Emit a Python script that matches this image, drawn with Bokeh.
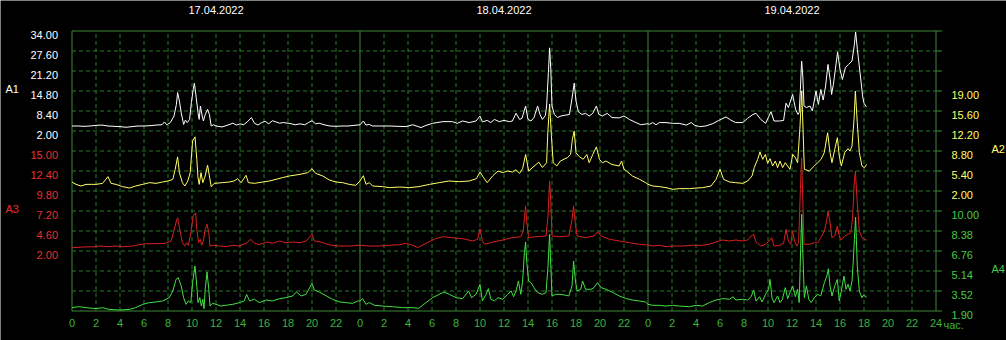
import numpy as np
from bokeh.plotting import figure
from bokeh.models import Range1d
from bokeh.core.properties import value
from bokeh.embed import file_html
from bokeh.resources import INLINE

# ---------------- data ----------------
DATES = ["17.04.2022", "18.04.2022", "19.04.2022"]
HOUR_TICKS = list(range(0, 73, 2))
HOUR_UNIT = "час."
A1_TICKS = [2.0, 8.4, 14.8, 21.2, 27.6, 34.0]
A2_TICKS = [2.0, 5.4, 8.8, 12.2, 15.6, 19.0]
A3_TICKS = [2.0, 4.6, 7.2, 9.8, 12.4, 15.0]
A4_TICKS = [1.9, 3.52, 5.14, 6.76, 8.38, 10.0]
NAMES = ["A1", "A2", "A3", "A4"]

# A1 (white)
a1_d1_h = [0, 0.5, 1, 1.5, 2, 2.5, 3, 3.5, 4, 4.5, 5, 5.5, 6, 6.5, 7, 7.5, 7.7, 7.9, 8.2, 8.5, 8.7, 8.8, 8.95, 9.1, 9.3, 9.45, 9.6, 9.8, 9.95, 10.1, 10.2, 10.35, 10.5, 10.6, 10.7, 10.85, 10.95, 11.1, 11.3, 11.45, 11.6, 11.8, 12, 12.5, 13, 13.4, 13.7, 14, 14.3, 14.6, 14.95, 15.2, 15.5, 15.8, 16.1, 16.4, 16.7, 17, 17.3, 17.6, 18, 18.3, 18.6, 19, 19.4, 19.7, 20, 20.3, 20.6, 21, 21.5, 22, 22.5, 23, 23.5]
a1_d1_v = [3.6, 3.6, 3.5, 3.6, 3.8, 3.9, 3.6, 3.5, 3.4, 3.2, 3.4, 3.6, 3.6, 3.7, 3.9, 4.0, 4.9, 4.0, 4.7, 6.8, 10.5, 14.3, 11.6, 7.9, 4.1, 5.5, 4.7, 5.7, 11.1, 15.3, 17.3, 12.7, 7.9, 5.7, 10.0, 6.8, 5.2, 7.3, 8.9, 7.3, 3.6, 4.0, 3.6, 3.3, 3.9, 4.5, 3.9, 4.3, 4.0, 4.9, 6.3, 4.5, 3.9, 4.7, 5.1, 4.3, 5.3, 4.9, 4.5, 4.7, 4.5, 4.3, 4.0, 4.3, 4.0, 4.7, 5.3, 4.3, 4.5, 4.0, 3.6, 3.5, 3.6, 3.6, 3.8]
a1_d2_h = [0, 0.28, 0.5, 0.78, 1.05, 1.6, 2.44, 3.83, 4.4, 5.08, 5.5, 6.05, 6.9, 7.7, 8.1, 8.55, 9.1, 9.67, 10.0, 10.2, 10.6, 10.9, 11.2, 11.6, 12.0, 12.45, 12.7, 13.0, 13.3, 13.5, 13.8, 14.0, 14.25, 14.5, 14.8, 15.0, 15.2, 15.45, 15.55, 15.7, 15.8, 15.9, 16.0, 16.2, 16.45, 16.75, 17.0, 17.45, 17.7, 17.85, 18.0, 18.2, 18.5, 18.8, 19.1, 19.4, 19.7, 19.9, 20.2, 20.6, 21.0, 21.6, 22.0, 22.45, 23.0, 23.4]
a1_d2_v = [4.0, 5.2, 3.9, 4.1, 3.6, 3.6, 3.6, 3.4, 4.0, 3.1, 3.8, 4.45, 5.0, 5.0, 4.45, 5.2, 4.7, 5.2, 6.8, 4.9, 5.4, 4.7, 5.7, 5.0, 5.4, 5.0, 5.2, 7.65, 5.7, 6.05, 10.0, 5.7, 5.2, 6.3, 10.0, 7.3, 5.7, 7.0, 10.0, 20.7, 28.6, 21.7, 10.0, 7.3, 6.3, 6.8, 7.0, 7.3, 13.2, 17.3, 11.6, 8.1, 7.3, 7.65, 6.8, 7.65, 10.0, 7.3, 6.8, 7.65, 6.3, 6.2, 6.8, 5.7, 4.7, 4.0]
a1_d3_h = [0, 0.1, 0.4, 0.67, 0.95, 1.5, 2.05, 2.6, 3.2, 3.6, 3.9, 4.3, 4.8, 5.4, 5.9, 6.5, 6.9, 7.3, 7.9, 8.3, 8.75, 9.0, 9.4, 9.8, 10.25, 10.5, 10.95, 11.3, 11.5, 11.7, 12.05, 12.3, 12.5, 12.6, 12.7, 12.8, 12.9, 13.0, 13.2, 13.5, 13.7, 14.0, 14.2, 14.4, 14.6, 14.8, 15.0, 15.2, 15.3, 15.45, 15.8, 16.0, 16.2, 16.45, 16.7, 17.0, 17.2, 17.3, 17.45, 17.7, 17.9, 18.0, 18.2]
a1_d3_v = [4.35, 4.1, 4.7, 4.0, 4.7, 4.7, 4.45, 4.45, 3.9, 4.7, 3.8, 3.4, 3.6, 4.35, 5.4, 6.5, 5.5, 4.7, 4.7, 6.05, 7.3, 7.65, 5.7, 4.45, 8.2, 5.2, 5.2, 5.4, 10.9, 9.5, 13.7, 8.9, 7.3, 7.9, 15.3, 24.4, 19.6, 10.0, 9.5, 10.0, 8.4, 14.8, 10.5, 15.3, 11.9, 16.4, 23.3, 18.0, 13.7, 16.9, 27.3, 21.7, 18.5, 22.3, 23.3, 24.4, 29.7, 33.7, 28.1, 19.6, 12.7, 10.9, 9.7]

# A2 (yellow)
a2_d1_h = [0, 0.33, 0.75, 1.17, 1.6, 2.0, 2.55, 3.0, 3.25, 3.67, 4.2, 4.8, 5.3, 5.9, 6.45, 7.0, 7.55, 8.0, 8.4, 8.6, 8.8, 8.95, 9.2, 9.4, 9.65, 9.85, 10.05, 10.25, 10.4, 10.5, 10.6, 10.75, 10.9, 11.1, 11.3, 11.45, 11.6, 11.85, 12.55, 13.1, 13.5, 13.8, 14.1, 14.5, 14.7, 15.2, 15.9, 16.45, 17.0, 17.55, 18.1, 19.0, 19.65, 20.0, 20.3, 20.9, 21.45, 22.0, 22.55, 23.1, 23.65]
a2_d1_v = [3.53, 3.13, 2.85, 3.13, 3.13, 3.13, 3.3, 4.44, 3.3, 3.13, 2.74, 2.51, 2.85, 3.13, 3.42, 3.3, 3.53, 3.7, 3.98, 5.68, 7.8, 5.12, 3.42, 2.85, 3.7, 5.12, 10.5, 11.2, 7.4, 4.27, 3.13, 5.12, 3.42, 4.55, 6.4, 4.55, 2.74, 3.3, 3.42, 3.53, 3.7, 4.1, 3.42, 4.66, 3.42, 3.3, 3.53, 3.7, 3.98, 4.27, 4.55, 4.83, 5.12, 5.8, 5.0, 4.55, 3.87, 3.53, 3.42, 3.13, 2.96]
a2_d2_h = [0, 0.28, 0.5, 0.78, 1.05, 1.9, 2.45, 3.3, 4.1, 4.9, 5.8, 6.6, 7.4, 8.3, 9.1, 9.7, 10.0, 10.3, 10.6, 11.05, 11.5, 11.9, 12.3, 12.7, 13.0, 13.3, 13.55, 13.8, 14.05, 14.5, 14.9, 15.2, 15.55, 15.65, 15.8, 15.95, 16.1, 16.4, 16.7, 17.0, 17.3, 17.55, 17.7, 17.85, 18.0, 18.3, 18.6, 18.9, 19.1, 19.4, 19.7, 19.95, 20.2, 20.5, 21.0, 21.6, 21.8, 22.0, 22.2, 22.7, 23.3, 23.8]
a2_d2_v = [3.7, 4.6, 3.13, 3.42, 2.85, 2.74, 2.57, 2.68, 2.57, 2.74, 3.13, 3.42, 3.7, 3.59, 3.7, 4.1, 5.23, 4.27, 3.42, 4.55, 5.4, 5.12, 5.4, 5.23, 5.6, 5.0, 5.8, 8.2, 5.4, 6.2, 6.9, 6.0, 6.8, 11.9, 16.8, 11.4, 6.8, 6.25, 7.1, 7.4, 7.7, 8.2, 10.8, 12.2, 8.5, 7.8, 7.4, 8.2, 6.8, 8.2, 9.5, 7.4, 6.8, 7.1, 6.5, 6.25, 7.1, 5.7, 5.4, 4.55, 3.98, 3.42]
a2_d3_h = [0, 0.4, 0.95, 1.5, 2.05, 2.6, 3.45, 4.0, 4.55, 5.25, 5.67, 6.0, 6.3, 6.8, 7.3, 7.9, 8.3, 8.67, 8.85, 9.14, 9.33, 9.56, 9.78, 9.97, 10.17, 10.39, 10.61, 10.8, 11.0, 11.22, 11.44, 11.64, 11.83, 12.06, 12.28, 12.47, 12.67, 12.81, 12.92, 13.03, 13.44, 13.86, 14.14, 14.42, 14.69, 14.97, 15.17, 15.33, 15.56, 15.78, 15.94, 16.11, 16.39, 16.67, 16.83, 17.0, 17.17, 17.28, 17.44, 17.61, 17.83, 18.03, 18.22]
a2_d3_v = [3.13, 2.85, 2.74, 2.57, 2.28, 2.4, 2.4, 2.5, 2.57, 2.85, 3.98, 5.68, 3.98, 3.53, 3.42, 3.3, 3.7, 4.55, 5.97, 7.38, 8.63, 7.38, 8.23, 6.7, 7.5, 6.25, 7.1, 5.97, 7.1, 5.97, 6.82, 6.25, 5.68, 8.23, 7.67, 6.82, 13.05, 19.0, 12.5, 5.68, 5.4, 6.25, 6.82, 7.38, 8.52, 11.9, 8.52, 6.82, 9.08, 11.07, 7.95, 6.25, 8.52, 9.2, 8.8, 9.65, 14.2, 19.0, 13.6, 8.52, 6.25, 5.97, 6.53]

# A3 (red)
a3_d1_h = [0, 0.9, 2.0, 2.3, 3.1, 3.67, 4.2, 5.05, 5.6, 6.2, 7.0, 7.8, 8.25, 8.45, 8.7, 8.8, 8.95, 9.2, 9.4, 9.55, 9.7, 9.9, 10.1, 10.3, 10.4, 10.55, 10.7, 10.8, 10.95, 11.1, 11.25, 11.4, 11.5, 11.7, 12.3, 12.8, 13.4, 13.95, 14.5, 14.9, 15.2, 15.6, 16.2, 16.7, 17.3, 17.8, 18.4, 19.0, 19.5, 20.0, 20.2, 20.75, 21.45, 22.3, 23.1]
a3_d1_v = [2.43, 2.52, 2.56, 2.65, 2.56, 2.65, 2.56, 2.65, 2.82, 2.95, 2.95, 3.0, 3.3, 4.38, 5.9, 6.33, 5.03, 3.08, 2.65, 3.08, 2.74, 4.38, 6.55, 6.98, 4.82, 3.08, 3.52, 2.74, 3.3, 4.82, 5.47, 4.38, 2.65, 2.74, 2.65, 2.56, 2.74, 2.65, 3.0, 3.52, 3.0, 2.82, 3.17, 3.0, 3.3, 3.08, 3.17, 3.08, 3.3, 4.17, 3.3, 3.17, 2.78, 2.65, 2.65]
a3_d2_h = [0, 0.78, 1.6, 2.45, 3.3, 3.8, 4.4, 4.8, 5.5, 6.3, 6.9, 7.7, 8.55, 9.4, 9.8, 10.0, 10.2, 10.4, 11.05, 11.9, 12.7, 13.4, 13.6, 13.8, 13.9, 14.05, 14.65, 15.5, 15.67, 15.8, 15.9, 16.0, 16.6, 17.4, 17.67, 17.8, 17.95, 18.1, 18.8, 19.5, 19.8, 20.1, 20.8, 21.6, 22.45, 23.3]
a3_d2_v = [2.74, 2.65, 2.65, 2.74, 2.82, 3.0, 2.74, 2.43, 3.0, 3.6, 3.86, 3.73, 3.6, 3.3, 3.52, 4.9, 3.3, 2.87, 3.17, 3.43, 3.73, 3.86, 4.6, 7.85, 5.68, 3.73, 3.86, 3.95, 6.55, 11.1, 8.28, 3.95, 3.86, 3.95, 6.12, 7.85, 5.47, 3.95, 3.73, 3.95, 4.51, 3.95, 3.52, 3.3, 3.08, 2.87]
a3_d3_h = [0, 0.4, 0.95, 1.5, 2.05, 2.9, 3.7, 4.55, 5.1, 5.67, 6.2, 6.8, 7.3, 7.9, 8.3, 8.6, 8.8, 9.0, 9.4, 9.8, 10.1, 10.3, 10.5, 10.95, 11.3, 11.5, 11.7, 11.9, 12.05, 12.2, 12.4, 12.55, 12.7, 12.8, 12.9, 13.0, 13.45, 13.86, 14.14, 14.4, 14.7, 14.9, 15.0, 15.17, 15.33, 15.56, 15.78, 15.94, 16.11, 16.39, 16.67, 16.9, 17.06, 17.17, 17.28, 17.44, 17.61, 17.83, 18.03, 18.22]
a3_d3_v = [2.78, 2.65, 2.74, 2.56, 2.65, 2.65, 2.74, 2.74, 2.87, 3.17, 3.43, 3.3, 3.43, 3.3, 3.43, 3.95, 4.17, 3.17, 2.65, 2.87, 3.3, 3.73, 2.65, 2.74, 3.0, 4.82, 3.3, 2.87, 4.6, 3.3, 2.65, 3.08, 10.0, 14.1, 8.72, 2.87, 2.87, 3.08, 3.08, 3.73, 4.6, 6.12, 7.2, 5.68, 3.73, 3.95, 5.25, 3.95, 3.43, 3.95, 4.17, 4.38, 6.55, 10.45, 12.4, 8.28, 4.6, 3.73, 3.52, 3.43]

# A4 (green)
a4_d1_h = [0, 0.6, 1.17, 2.0, 2.55, 3.1, 3.94, 4.8, 5.3, 5.9, 6.45, 7.0, 7.55, 8.1, 8.4, 8.67, 8.85, 9.1, 9.3, 9.5, 9.7, 9.9, 10.05, 10.25, 10.4, 10.5, 10.65, 10.78, 10.9, 11.0, 11.1, 11.25, 11.4, 11.5, 11.7, 12.0, 12.4, 12.8, 13.4, 13.95, 14.35, 14.55, 14.8, 15.2, 15.6, 16.2, 16.7, 17.3, 17.8, 18.4, 18.7, 19.1, 19.5, 20.0, 20.2, 20.6, 21.2, 21.7, 22.3, 22.8, 23.4, 23.8]
a4_d1_v = [2.17, 2.25, 2.17, 2.09, 2.17, 2.03, 1.98, 2.03, 2.17, 2.44, 2.58, 2.63, 2.71, 2.98, 3.52, 4.46, 4.6, 3.93, 2.98, 2.44, 2.71, 2.58, 4.2, 5.55, 3.93, 2.58, 2.98, 2.3, 2.85, 2.09, 3.66, 5.06, 3.66, 2.3, 2.52, 2.44, 2.3, 2.36, 2.44, 2.58, 2.71, 3.25, 2.71, 2.85, 2.58, 2.79, 2.71, 2.9, 2.98, 3.12, 3.44, 3.12, 3.25, 4.14, 3.6, 3.44, 3.12, 2.85, 2.63, 2.58, 2.52, 2.71]
a4_d2_h = [0, 0.22, 0.5, 0.78, 1.2, 1.9, 2.7, 3.55, 4.4, 4.9, 5.5, 6.05, 6.6, 7.0, 7.45, 8.0, 8.55, 9.05, 9.3, 9.67, 10.0, 10.2, 10.5, 10.7, 10.9, 11.2, 11.5, 11.9, 12.3, 12.6, 12.8, 13.0, 13.2, 13.4, 13.55, 13.7, 13.8, 13.9, 14.05, 14.25, 14.5, 14.8, 15.2, 15.5, 15.67, 15.8, 15.9, 16.0, 16.3, 16.75, 17.4, 17.67, 17.8, 17.95, 18.1, 18.4, 18.55, 18.8, 19.25, 19.5, 19.8, 20.1, 20.5, 21.1, 21.6, 22.2, 22.7, 23.3, 23.8]
a4_d2_v = [2.71, 2.9, 2.44, 2.58, 2.36, 2.3, 2.25, 2.17, 2.17, 2.12, 2.58, 2.98, 3.25, 3.44, 3.25, 2.98, 2.9, 3.52, 2.98, 3.25, 4.06, 2.71, 3.25, 3.71, 2.85, 2.71, 2.98, 2.85, 3.25, 3.52, 3.06, 3.52, 4.33, 3.25, 4.33, 6.62, 7.49, 5.82, 4.33, 4.2, 3.79, 3.39, 3.25, 3.39, 5.55, 8.11, 5.55, 3.12, 3.25, 3.25, 3.12, 3.93, 5.95, 4.33, 3.52, 3.66, 4.33, 3.66, 3.66, 3.79, 4.2, 3.79, 3.66, 3.39, 3.12, 2.9, 2.79, 2.71, 2.63]
a4_d3_h = [0, 0.4, 0.95, 1.5, 2.05, 2.6, 3.45, 4.0, 4.55, 5.1, 5.67, 6.2, 6.8, 7.1, 7.3, 7.9, 8.3, 8.6, 8.8, 9.0, 9.3, 9.5, 9.8, 10.05, 10.17, 10.33, 10.5, 10.8, 11.0, 11.2, 11.44, 11.64, 11.83, 12.06, 12.28, 12.47, 12.6, 12.72, 12.81, 12.92, 13.03, 13.2, 13.4, 13.6, 13.86, 14.14, 14.4, 14.7, 14.9, 15.03, 15.17, 15.33, 15.56, 15.78, 15.94, 16.11, 16.33, 16.5, 16.67, 16.83, 17.0, 17.1, 17.2, 17.3, 17.44, 17.61, 17.83, 17.94, 18.1, 18.22]
a4_d3_v = [2.44, 2.36, 2.36, 2.3, 2.36, 2.3, 2.25, 2.36, 2.3, 2.58, 2.79, 2.9, 2.85, 3.06, 2.79, 2.85, 2.79, 3.06, 3.6, 2.71, 3.06, 2.63, 3.25, 3.66, 4.46, 2.98, 2.58, 3.12, 2.58, 2.85, 3.79, 2.9, 3.39, 3.93, 3.06, 3.66, 2.58, 6.9, 9.75, 6.09, 2.98, 3.93, 2.85, 2.58, 2.98, 3.25, 3.12, 4.2, 4.73, 5.33, 3.93, 3.12, 3.93, 4.46, 2.71, 3.52, 4.73, 3.66, 4.06, 3.52, 4.33, 5.82, 7.7, 9.5, 5.55, 3.52, 2.98, 3.17, 3.12, 2.98]

# ---------------- style / layout ----------------
FONT = value("Liberation Sans")
FS = value("11px")
BG = "#000000"
FRAME_C = "#3a8a32"
GRID_C = "#2b7a2b"
C_WHITE = "#ffffff"
C_YELLOW = "#ffff66"
C_RED = "#d82020"
C_RED_TXT = "#e83030"
C_GREEN = "#44e044"
C_GREEN_TXT = "#44cc44"
C_XLAB = "#3cb43c"

W, H = 1006, 340
OX, OY = 71.5, 30.5          # canvas position of (hour 0, top grid row)
FH = 280.0                    # plot-area height in px
ROWS = 14
PX_PER_H = 12.0
HOURS = 72


def xrange_full():
    return Range1d(-OX / PX_PER_H, (W - OX) / PX_PER_H)


def band(ticks, top_row):
    step = ticks[1] - ticks[0]
    upp = step / (FH / ROWS)           # units per pixel
    top = ticks[-1] + top_row * step   # value at top grid row
    return Range1d(top - (H - OY) * upp, top + OY * upp), top, step


r1, top1, st1 = band(A1_TICKS, 0)
r2, top2, st2 = band(A2_TICKS, 3)
r3, top3, st3 = band(A3_TICKS, 6)
r4, top4, st4 = band(A4_TICKS, 9)
bot1 = top1 - ROWS * st1


def cy(pix):  # canvas pixel y -> A1 units (text placement only)
    return top1 - (pix - OY) * st1 / (FH / ROWS)


def cx(pix):  # canvas pixel x -> hours (text placement only)
    return (pix - OX) / PX_PER_H


p = figure(width=W, height=H, x_range=xrange_full(), y_range=r1,
           output_backend="svg", toolbar_location=None, title=None,
           x_axis_location=None, y_axis_location=None, min_border=0,
           background_fill_color=BG, border_fill_color=BG, outline_line_color=None)
p.extra_y_ranges = {"a2": r2, "a3": r3, "a4": r4}
p.xgrid.visible = False
p.ygrid.visible = False

# ---- grid ----
grid_rows = [top1 - k * st1 for k in range(ROWS + 1)]
dash_hours = [h for h in HOUR_TICKS if h % 24 != 0]
solid_hours = [h for h in HOUR_TICKS if h % 24 == 0]
p.segment(x0=dash_hours, y0=[bot1] * len(dash_hours), x1=dash_hours, y1=[top1] * len(dash_hours),
          line_color=GRID_C, line_dash="4 3", line_width=1)
inner_rows = grid_rows[1:-1]
p.segment(x0=[0] * len(inner_rows), y0=inner_rows, x1=[HOURS] * len(inner_rows), y1=inner_rows,
          line_color=GRID_C, line_dash="4 3", line_width=1)
# frame, day boundaries, right tick marks
p.segment(x0=solid_hours, y0=[bot1] * len(solid_hours), x1=solid_hours, y1=[top1] * len(solid_hours),
          line_color=FRAME_C, line_width=1)
p.segment(x0=[0, 0], y0=[top1, bot1], x1=[HOURS, HOURS], y1=[top1, bot1],
          line_color=FRAME_C, line_width=1)
tick_len_h = 6 / PX_PER_H
p.segment(x0=[HOURS] * len(grid_rows), y0=grid_rows, x1=[HOURS + tick_len_h] * len(grid_rows), y1=grid_rows,
          line_color=FRAME_C, line_width=1)


def txt(x, y, t, color, align, baseline, rng="default"):
    p.text(x=x, y=y, text=t, text_color=color, text_align=align, text_baseline=baseline,
           text_font=FONT, text_font_size=FS, y_range_name=rng)


# ---- tick labels ----
xlabels = [str(h % 24) if h < HOURS else "24" for h in HOUR_TICKS]
txt(HOUR_TICKS, [cy(318.5)] * len(HOUR_TICKS), xlabels, C_XLAB, "center", "top")
txt([cx(943)], [cy(318.5)], [HOUR_UNIT], C_XLAB, "left", "top")
txt([12, 36, 60], [cy(5.5)] * 3, DATES, C_WHITE, "center", "top")

LX, RX = cx(57.5), cx(951)
txt([LX] * 6, A1_TICKS, ["%.2f" % t for t in A1_TICKS], C_WHITE, "right", "top")
txt([LX] * 6, A3_TICKS, ["%.2f" % t for t in A3_TICKS], C_RED_TXT, "right", "top", "a3")
txt([RX] * 6, A2_TICKS, ["%.2f" % t for t in A2_TICKS], C_YELLOW, "left", "top", "a2")
txt([RX] * 6, A4_TICKS, ["%.2f" % t for t in A4_TICKS], C_GREEN_TXT, "left", "top", "a4")

# ---- series names ----
txt([cx(5)], [cy(82)], [NAMES[0]], C_WHITE, "left", "top")
txt([cx(5)], [cy(202)], [NAMES[2]], C_RED_TXT, "left", "top")
txt([cx(991)], [cy(142)], [NAMES[1]], C_YELLOW, "left", "top")
txt([cx(991)], [cy(262)], [NAMES[3]], C_GREEN_TXT, "left", "top")


# ---- series ----
def join(days):
    xs, ys = [], []
    for d, (hh, vv) in enumerate(days):
        xs += [24 * d + t for t in hh]
        ys += list(vv)
    return xs, ys


x4, y4 = join([(a4_d1_h, a4_d1_v), (a4_d2_h, a4_d2_v), (a4_d3_h, a4_d3_v)])
x2, y2 = join([(a2_d1_h, a2_d1_v), (a2_d2_h, a2_d2_v), (a2_d3_h, a2_d3_v)])
x3, y3 = join([(a3_d1_h, a3_d1_v), (a3_d2_h, a3_d2_v), (a3_d3_h, a3_d3_v)])
x1, y1 = join([(a1_d1_h, a1_d1_v), (a1_d2_h, a1_d2_v), (a1_d3_h, a1_d3_v)])
p.line(x4, y4, y_range_name="a4", line_color=C_GREEN, line_width=1)
p.line(x2, y2, y_range_name="a2", line_color=C_YELLOW, line_width=1)
p.line(x3, y3, y_range_name="a3", line_color=C_RED, line_width=1)
p.line(x1, y1, line_color=C_WHITE, line_width=1)

open("out.html", "w").write(file_html(p, INLINE))
